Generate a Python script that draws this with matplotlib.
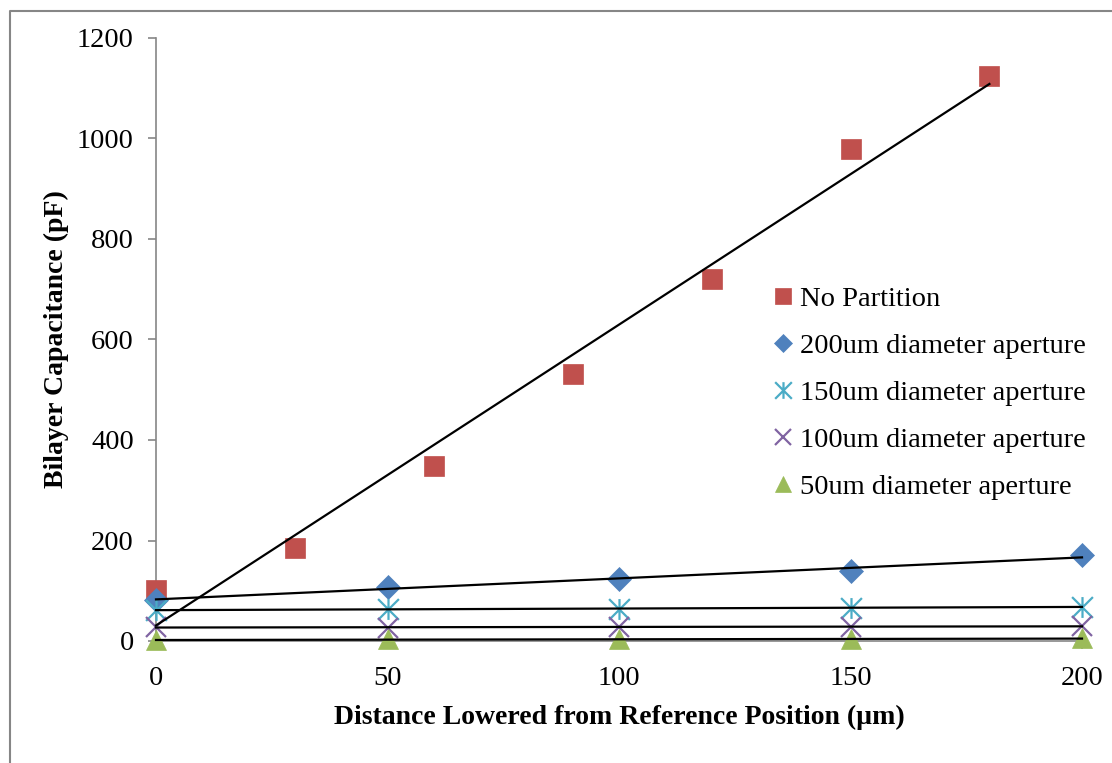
import numpy as np
import matplotlib
matplotlib.use("Agg")
import matplotlib.pyplot as plt
from matplotlib.path import Path
from matplotlib.lines import Line2D

plt.rcParams['font.family'] = ['Liberation Serif', 'DejaVu Serif']

# 数据
x_nopart = [0, 30, 60, 90, 120, 150, 180]
y_nopart = [101, 185, 348, 531, 720, 979, 1124]
x_ap = [0, 50, 100, 150, 200]
y_200 = [82, 108, 123, 139, 171]
y_150 = [61, 64, 64, 66, 68]
y_100 = [28, 26, 28, 28, 30]
y_50 = [2, 3, 3, 4, 5]
labels = ['No Partition', '200um diameter aperture', '150um diameter aperture',
          '100um diameter aperture', '50um diameter aperture']
colors = ['#C0504D', '#4F81BD', '#4BACC6', '#8064A2', '#9BBB59']

# Excel 星形标记: X 加一条竖线
star = Path([(0, -1), (0, 1), (-1, -1), (1, 1), (-1, 1), (1, -1)],
            [Path.MOVETO, Path.LINETO, Path.MOVETO, Path.LINETO, Path.MOVETO, Path.LINETO])

series = [
    (x_nopart, y_nopart, 's', 14),
    (x_ap, y_200, 'D', 12),
    (x_ap, y_150, star, 15),
    (x_ap, y_100, 'x', 14),
    (x_ap, y_50, '^', 14),
]

fig = plt.figure(figsize=(11.12, 7.63), dpi=100)
ax = fig.add_axes([156/1112, 1-641/763, (1082-156)/1112, (641-38)/763])

handles = []
for (xs, ys, m, ms), lab, c in zip(series, labels, colors):
    thin = (m is star) or (m == 'x')
    h, = ax.plot(xs, ys, linestyle='none', marker=m, markersize=ms, color=c,
                 markeredgewidth=1.6 if thin else 0.5,
                 markeredgecolor=c, label=lab, clip_on=False, zorder=3)
    handles.append(h)
    # 线性趋势线
    k, b = np.polyfit(xs, ys, 1)
    xx = np.array([xs[0], xs[-1]])
    ax.plot(xx, k*xx + b, color='black', lw=1.6, zorder=4, clip_on=False)

ax.set_xlim(0, 200)
ax.set_ylim(0, 1200)
ax.set_xticks([0, 50, 100, 150, 200])
ax.set_yticks(range(0, 1201, 200))
for s in ['top', 'right']:
    ax.spines[s].set_visible(False)
for s in ['left', 'bottom']:
    ax.spines[s].set_color('#868686')
    ax.spines[s].set_linewidth(1.2)
ax.tick_params(direction='out', length=6, width=1.2, color='#868686',
               labelsize=20.5, pad=10)
ax.tick_params(axis='x', pad=12)

ax.set_xlabel('Distance Lowered from Reference Position (µm)', fontsize=20,
              fontweight='bold', labelpad=10)
ax.set_ylabel('Bilayer Capacitance (pF)', fontsize=20, fontweight='bold', labelpad=6)

ax.legend(handles=handles, loc='upper left', bbox_to_anchor=(0.656, 0.608),
          frameon=False, fontsize=20.5, markerscale=0.8, handlelength=0.6,
          handletextpad=0.3, labelspacing=0.74, borderaxespad=0)

# 图表外框
fig.add_artist(Line2D([10/1112, 10/1112, 1.1], [-0.1, 1-11/763, 1-11/763],
                      color='#868686', lw=1.5, transform=fig.transFigure))

plt.savefig('out.png', dpi=100)
